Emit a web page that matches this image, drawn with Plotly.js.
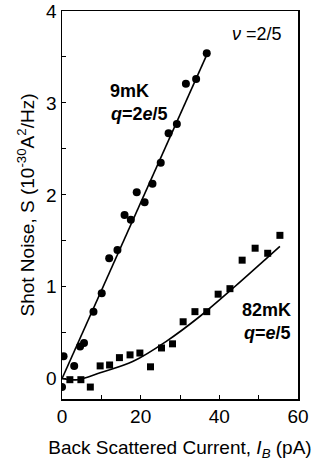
<!DOCTYPE html>
<html>
<head>
<meta charset="utf-8">
<script src="https://cdn.plot.ly/plotly-3.0.1.min.js"></script>
<style>
  html, body { margin: 0; padding: 0; background: #fff; }
  #chart { width: 327px; height: 473px; }
</style>
</head>
<body>
<div id="chart"></div>
<script>
// 9 mK data (circles)
const cold_x = [0.0, 0.4, 3.1, 4.6, 5.6, 8.0, 10.1, 12.0, 14.1, 15.9, 17.5, 19.0, 21.0, 23.0, 25.1, 27.1, 29.2, 31.5, 34.1, 36.8];
const cold_y = [-0.09, 0.245, 0.14, 0.35, 0.39, 0.73, 0.93, 1.31, 1.40, 1.78, 1.73, 2.03, 1.92, 2.12, 2.35, 2.67, 2.77, 3.21, 3.26, 3.54];
// straight fit for 9 mK, q = 2e/5
const coldFit_x = [0, 37.2];
const coldFit_y = [0, 3.56];

// 82 mK data (squares)
const warm_x = [2.0, 4.8, 7.2, 9.7, 12.1, 14.6, 17.3, 19.8, 22.5, 25.3, 28.1, 30.8, 33.8, 36.8, 39.7, 42.7, 45.8, 49.1, 52.3, 55.4];
const warm_y = [-0.01, -0.01, -0.09, 0.14, 0.15, 0.23, 0.26, 0.28, 0.13, 0.335, 0.38, 0.62, 0.73, 0.73, 0.92, 0.98, 1.29, 1.42, 1.365, 1.56];
// curve for 82 mK, q = e/5
const warmFit_x = [0, 4, 9.7, 18.1, 26.6, 35.1, 43.6, 52.0, 55.4];
const warmFit_y = [0, -0.01, 0.065, 0.19, 0.41, 0.68, 0.99, 1.31, 1.44];

const xTicks = [0, 20, 40, 60];
const yTicks = [0, 1, 2, 3, 4];

const FONT = 'Liberation Sans, Arial, sans-serif';

const traces = [
  {
    x: coldFit_x, y: coldFit_y, mode: 'lines', type: 'scatter',
    line: { color: '#000', width: 1.6 }, hoverinfo: 'skip'
  },
  {
    x: warmFit_x, y: warmFit_y, mode: 'lines', type: 'scatter',
    line: { color: '#000', width: 1.6, shape: 'spline', smoothing: 1 }, hoverinfo: 'skip'
  },
  {
    x: cold_x, y: cold_y, mode: 'markers', type: 'scatter', cliponaxis: true,
    marker: { symbol: 'circle', size: 8, color: '#000' }
  },
  {
    x: warm_x, y: warm_y, mode: 'markers', type: 'scatter', cliponaxis: true,
    marker: { symbol: 'square', size: 7, color: '#000' }
  }
];

const axisCommon = {
  showline: true, mirror: true, linecolor: '#000', linewidth: 1.5,
  ticks: 'inside', ticklen: 4, tickwidth: 1, tickcolor: '#000',
  showgrid: false, zeroline: false,
  tickfont: { family: FONT, size: 19, color: '#000' }
};

const layout = {
  width: 327, height: 473,
  margin: { l: 62, r: 29, t: 11, b: 74 },
  paper_bgcolor: '#fff', plot_bgcolor: '#fff',
  font: { family: FONT, size: 19, color: '#000' },
  showlegend: false,
  xaxis: Object.assign({}, axisCommon, {
    range: [0, 60], tickvals: xTicks,
    minor: { dtick: 10, ticks: 'inside', ticklen: 4, tickcolor: '#000' },
    title: { text: 'Back Scattered Current, <i>I</i><sub><i>B</i></sub> (pA)', font: { family: FONT, size: 19 }, standoff: 14 }
  }),
  yaxis: Object.assign({}, axisCommon, {
    range: [-0.22, 4], tickvals: yTicks,
    minor: { dtick: 0.5, tick0: 0, ticks: 'inside', ticklen: 4, tickcolor: '#000' },
    title: { text: 'Shot Noise, S (10<sup>-30</sup>A<sup>2</sup>/Hz)', font: { family: FONT, size: 19 }, standoff: 6 }
  }),
  annotations: [
    { x: 42.7, y: 3.75, xanchor: 'left', yanchor: 'middle', showarrow: false,
      text: '<i>ν</i> =2/5', font: { family: FONT, size: 18 } },
    { x: 11.7, y: 3.13, xanchor: 'left', yanchor: 'middle', showarrow: false,
      text: '<b>9mK</b>', font: { family: FONT, size: 18 } },
    { x: 12.0, y: 2.88, xanchor: 'left', yanchor: 'middle', showarrow: false,
      text: '<b><i>q</i>=2<i>e</i>/5</b>', font: { family: FONT, size: 18 } },
    { x: 45.3, y: 0.75, xanchor: 'left', yanchor: 'middle', showarrow: false,
      text: '<b>82mK</b>', font: { family: FONT, size: 18 } },
    { x: 45.8, y: 0.50, xanchor: 'left', yanchor: 'middle', showarrow: false,
      text: '<b><i>q</i>=<i>e</i>/5</b>', font: { family: FONT, size: 18 } }
  ]
};

Plotly.newPlot('chart', traces, layout, { staticPlot: true });
</script>
</body>
</html>
